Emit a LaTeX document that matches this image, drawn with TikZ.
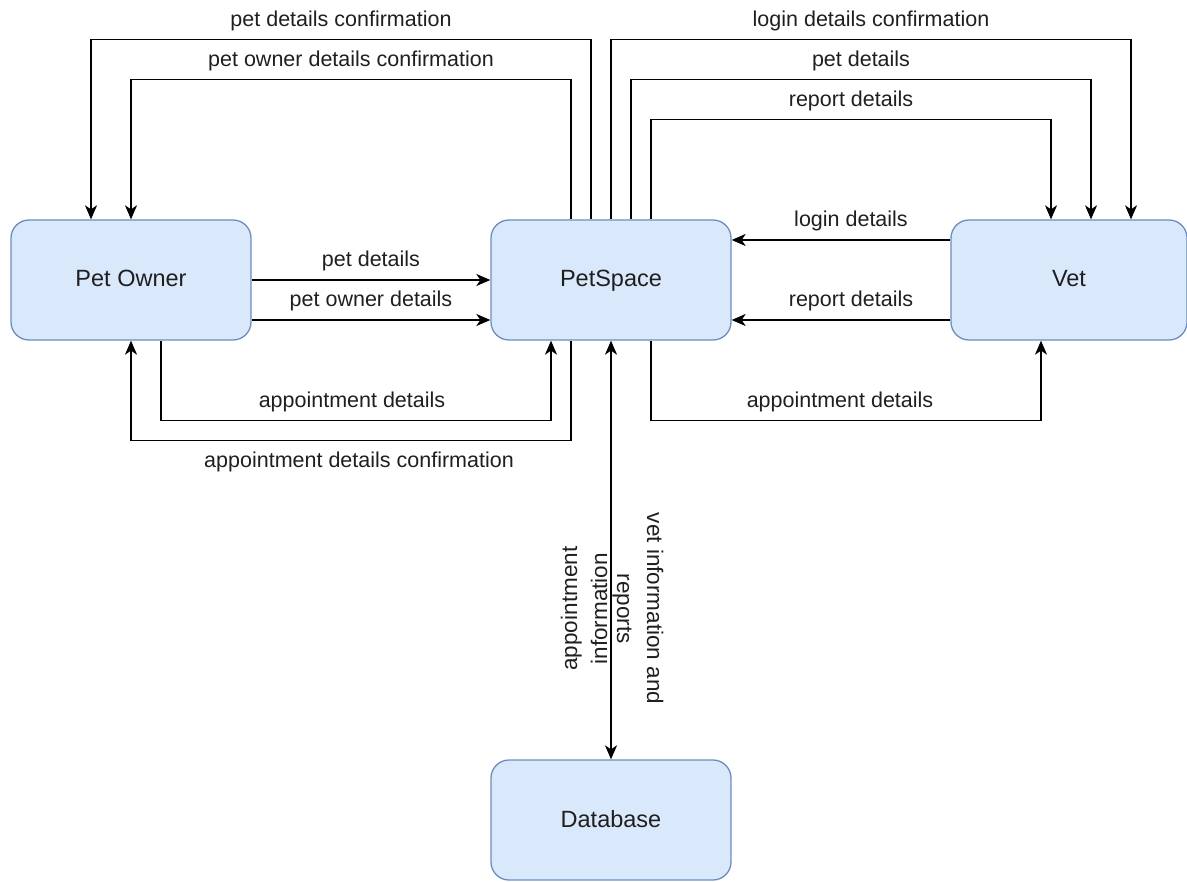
\documentclass[tikz,border=0pt]{standalone}
\usepackage{fontspec}
\setmainfont{Liberation Sans}
\usetikzlibrary{arrows.meta}

\definecolor{boxfill}{HTML}{DAE8FC}
\definecolor{boxline}{HTML}{6C8EBF}
\definecolor{txt}{HTML}{1F1F1F}

\tikzset{
  >={Stealth[length=14pt,width=12pt,inset=4pt]},
  proc/.style={draw=boxline, fill=boxfill, line width=1.3pt, rounded corners=18pt,
    minimum width=240pt, minimum height=120pt, text=txt, text height=19pt, text depth=5pt,
    font=\fontsize{23.5}{28}\selectfont},
  flow/.style={line width=1.5pt, ->},
  lbl/.style={text=txt, inner sep=0pt, font=\fontsize{21.5}{25}\selectfont},
  vlbl/.style={text=txt, inner sep=0pt, align=center, font=\fontsize{22.5}{30}\selectfont},
}

\begin{document}
\begin{tikzpicture}[x=1pt, y=-1pt]
\useasboundingbox (0,0) rectangle (1187,882);
\node [proc] (po) at (131,280) {Pet Owner};
\node [proc] (ps) at (611,280) {PetSpace};
\node [proc, minimum width=236pt] (vet) at (1069,280) {Vet};
\node [proc] (db) at (611,820) {Database};
% PetSpace -> Pet Owner (over the top)
\draw [flow] ([xshift=-20pt]ps.north) -- ++(0,-180) -| node [lbl, pos=0.25, above=8pt] {pet details confirmation} ([xshift=-40pt]po.north);
\draw [flow] ([xshift=-40pt]ps.north) -- ++(0,-140) -| node [lbl, pos=0.25, above=8pt] {pet owner details confirmation} (po.north);
% PetSpace -> Vet (over the top)
\draw [flow] (ps.north) -- ++(0,-180) -| node [lbl, pos=0.25, above=8pt] {login details confirmation} ([xshift=62pt]vet.north);
\draw [flow] ([xshift=20pt]ps.north) -- ++(0,-140) -| node [lbl, pos=0.25, above=8pt] {pet details} ([xshift=22pt]vet.north);
\draw [flow] ([xshift=40pt]ps.north) -- ++(0,-100) -| node [lbl, pos=0.25, above=8pt] {report details} ([xshift=-18pt]vet.north);
% Pet Owner <-> PetSpace
\draw [flow] (po.east) -- node [lbl, above=8pt] {pet details} (ps.west);
\draw [flow] ([yshift=-40pt]po.east) -- node [lbl, above=8pt] {pet owner details} ([yshift=-40pt]ps.west);
\draw [flow] ([xshift=30pt]po.south) -- ++(0,80) -| node [lbl, pos=0.25, above=8pt, xshift=-4pt] {appointment details} ([xshift=-60pt]ps.south);
\draw [flow] ([xshift=-40pt]ps.south) -- ++(0,100) -| node [lbl, pos=0.25, below=11pt, xshift=8pt] {appointment details confirmation} (po.south);
% Vet <-> PetSpace
\draw [flow] ([yshift=40pt]vet.west) -- node [lbl, above=8pt, xshift=10pt] {login details} ([yshift=40pt]ps.east);
\draw [flow] ([yshift=-40pt]vet.west) -- node [lbl, above=8pt, xshift=10pt] {report details} ([yshift=-40pt]ps.east);
\draw [flow] ([xshift=40pt]ps.south) -- ++(0,80) -| node [lbl, pos=0.25, above=8pt, xshift=-6pt] {appointment details} ([xshift=-28pt]vet.south);
% PetSpace <-> Database
\draw [flow, <->] (ps.south) -- node [vlbl, pos=0.64, xshift=-27pt, rotate=90] {appointment\\information} node [vlbl, pos=0.64, xshift=27pt, rotate=-90] {vet information and\\reports} (db.north);
\end{tikzpicture}
\end{document}
